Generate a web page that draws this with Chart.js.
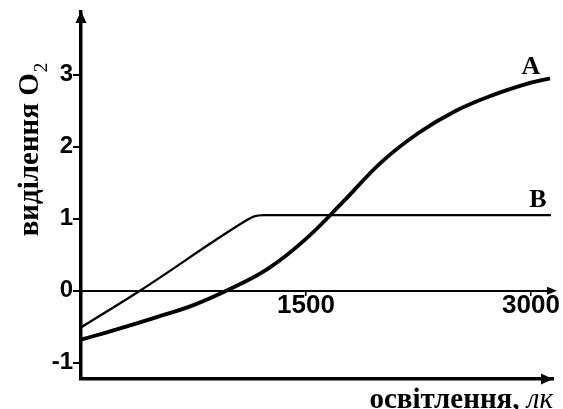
<!DOCTYPE html>
<html><head><meta charset="utf-8">
<script src="https://cdn.jsdelivr.net/npm/chart.js@4/dist/chart.umd.min.js"></script>
<style>html,body{margin:0;padding:0;background:#fff}canvas{display:block}</style>
</head><body>
<canvas id="c" width="563" height="409"></canvas>
<script>
// ---- data ----
const lightA = [0, 250, 500, 750, 1000, 1250, 1500, 1750, 2000, 2250, 2500, 2750, 3000, 3127];
const o2A    = [-0.68, -0.53, -0.37, -0.20, 0.03, 0.31, 0.72, 1.24, 1.78, 2.19, 2.50, 2.72, 2.89, 2.95];
const lightB = [0, 393, 1090, 1150, 1220, 3133];
const o2B    = [-0.51, 0, 0.96, 1.03, 1.05, 1.05];
const xTickValues = [1500, 3000];
const yTickValues = [-1, 0, 1, 2, 3];
const seriesNames = ['А', 'В'];
const yTitleMain = 'виділення O';
const yTitleSub = '2';
const xTitleMain = 'освітлення, ';
const xTitleUnit = 'лк';

const toPts = (xs, ys) => xs.map((v, i) => ({x: v, y: ys[i]}));

function tri(ctx, p1, p2, p3) {
  ctx.beginPath(); ctx.moveTo(p1[0], p1[1]); ctx.lineTo(p2[0], p2[1]); ctx.lineTo(p3[0], p3[1]); ctx.closePath(); ctx.fill();
}

const decor = {
  id: 'decor',
  afterDraw(chart) {
    const {ctx, chartArea: a, scales: {x, y}} = chart;
    ctx.save();
    ctx.fillStyle = '#000';
    // arrowheads
    tri(ctx, [a.left, a.top - 1], [a.left - 5.5, a.top + 11], [a.left + 5.5, a.top + 11]);
    tri(ctx, [a.right, a.bottom], [a.right - 12, a.bottom - 5.5], [a.right - 12, a.bottom + 5.5]);
    const y0 = y.getPixelForValue(0);
    tri(ctx, [a.right + 4, y0], [a.right - 6, y0 - 4], [a.right - 6, y0 + 4]);
    // series labels
    ctx.font = 'bold 26px "Liberation Serif"';
    ctx.textAlign = 'center'; ctx.textBaseline = 'middle';
    ctx.fillText(seriesNames[0], x.getPixelForValue(3000), y.getPixelForValue(3.11));
    ctx.fillText(seriesNames[1], x.getPixelForValue(3047), y.getPixelForValue(1.26));
    // y title (rotated)
    ctx.textAlign = 'left'; ctx.textBaseline = 'alphabetic';
    const mainFont = 'bold 29px "Liberation Serif"';
    const subFont = '19px "Liberation Serif"';
    ctx.font = mainFont; const wm = ctx.measureText(yTitleMain).width;
    ctx.font = subFont; const ws = ctx.measureText(yTitleSub).width;
    ctx.save();
    ctx.translate(38, 150);
    ctx.rotate(-Math.PI / 2);
    const sx = -(wm + ws) / 2;
    ctx.font = mainFont; ctx.fillText(yTitleMain, sx, 0);
    ctx.font = subFont; ctx.fillText(yTitleSub, sx + wm + 1, 9);
    ctx.restore();
    // x title
    ctx.font = 'italic 29px "Liberation Serif"';
    const wu = ctx.measureText(xTitleUnit).width;
    ctx.textAlign = 'right';
    ctx.fillText(xTitleUnit, 553, 408);
    ctx.font = 'bold 29px "Liberation Serif"';
    ctx.fillText(xTitleMain, 553 - wu, 408);
    ctx.restore();
  }
};

const zeroPad = s => { s.paddingLeft = 0; s.paddingRight = 0; s.paddingTop = 0; s.paddingBottom = 0; };

new Chart(document.getElementById('c'), {
  type: 'line',
  data: {
    datasets: [
      {label: seriesNames[0], data: toPts(lightA, o2A), borderColor: '#000', borderWidth: 3.8, pointRadius: 0, tension: 0.4, fill: false, clip: false},
      {label: seriesNames[1], data: toPts(lightB, o2B), borderColor: '#000', borderWidth: 2.3, pointRadius: 0, cubicInterpolationMode: 'monotone', fill: false, clip: false}
    ]
  },
  options: {
    responsive: false,
    animation: false,
    devicePixelRatio: 1,
    layout: {padding: {left: 51, top: 12, right: 10, bottom: 30}},
    plugins: {legend: {display: false}, tooltip: {enabled: false}, title: {display: false}},
    scales: {
      x: {
        type: 'linear', position: {y: 0}, min: 0, max: 3147,
        afterBuildTicks: s => { s.ticks = xTickValues.map(v => ({value: v})); },
        afterFit: s => { s.height = 0; zeroPad(s); },
        grid: {display: true, drawOnChartArea: false, drawTicks: true, tickLength: 4, color: '#000', lineWidth: 1.5},
        border: {display: true, color: '#000', width: 2},
        ticks: {padding: -4, maxRotation: 0, autoSkip: false, color: '#000', font: {family: '"Liberation Sans", Arial', weight: 'bold', size: 26}, callback: v => String(v)}
      },
      xb: {
        type: 'linear', position: 'bottom', min: 0, max: 3147,
        afterFit: s => { s.height = 0; zeroPad(s); },
        grid: {display: false},
        border: {display: true, color: '#000', width: 3.5},
        ticks: {display: false}
      },
      y: {
        type: 'linear', position: 'left', min: -1.226, max: 3.871,
        afterBuildTicks: s => { s.ticks = yTickValues.map(v => ({value: v})); },
        afterFit: s => { s.width = 30; zeroPad(s); },
        grid: {display: true, drawOnChartArea: false, drawTicks: true, tickLength: 8, color: '#000', lineWidth: 2},
        border: {display: true, color: '#000', width: 3.5},
        ticks: {padding: 0, color: '#000', font: {family: '"Liberation Sans", Arial', weight: 'bold', size: 24}, callback: v => String(v)}
      }
    }
  },
  plugins: [decor]
});
</script>
</body></html>
